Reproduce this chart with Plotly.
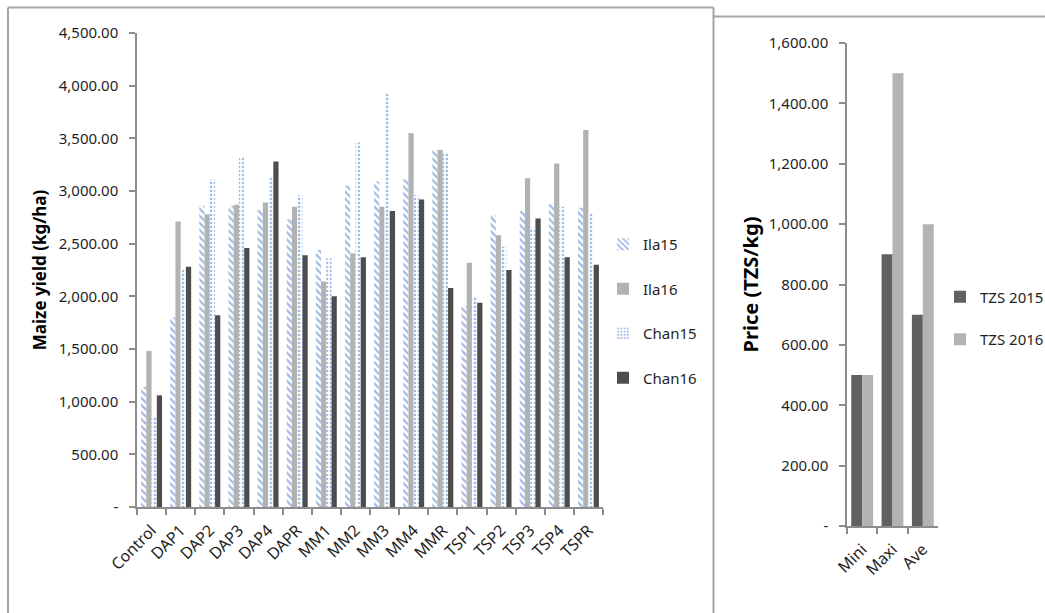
import plotly.graph_objects as go

# Maize yield by treatment (kg/ha)
treatments = ["Control", "DAP1", "DAP2", "DAP3", "DAP4", "DAPR", "MM1", "MM2",
              "MM3", "MM4", "MMR", "TSP1", "TSP2", "TSP3", "TSP4", "TSPR"]
ila15 = [1140, 1800, 2860, 2860, 2820, 2730, 2440, 3050,
         3090, 3110, 3390, 1910, 2770, 2810, 2880, 2840]
ila16 = [1480, 2710, 2780, 2870, 2890, 2850, 2140, 2410,
         2850, 3550, 3390, 2320, 2580, 3120, 3260, 3580]
chan15 = [860, 2260, 3110, 3320, 3140, 2960, 2360, 3460,
          3920, 2960, 3360, 2000, 2470, 2650, 2850, 2790]
chan16 = [1060, 2280, 1820, 2460, 3280, 2390, 2000, 2370,
          2810, 2920, 2080, 1940, 2250, 2740, 2370, 2300]

yield_ticks = [0, 500, 1000, 1500, 2000, 2500, 3000, 3500, 4000, 4500]
yield_ticktext = ["-", "500.00", "1,000.00", "1,500.00", "2,000.00", "2,500.00",
                  "3,000.00", "3,500.00", "4,000.00", "4,500.00"]

# Maize price (TZS/kg)
price_cats = ["Mini", "Maxi", "Ave"]
tzs2015 = [500, 900, 700]
tzs2016 = [500, 1500, 1000]

price_ticks = [0, 200, 400, 600, 800, 1000, 1200, 1400, 1600]
price_ticktext = ["-", "200.00", "400.00", "600.00", "800.00", "1,000.00",
                  "1,200.00", "1,400.00", "1,600.00"]

W, H = 1045, 613
BLUE = "#3f78c8"
FONT = "Noto Sans"
TXT = "#1f1f1f"
AXC = "#8c8c8c"


def px_x(v):
    return v / W


def px_y(v):
    return 1 - v / H


fig = go.Figure()

fig.add_trace(go.Bar(
    x=treatments, y=ila15, name="Ila15", legend="legend", legendgroup="a",
    marker=dict(color="white", line=dict(width=0),
                pattern=dict(shape="\\", fgcolor=BLUE, bgcolor="white",
                             size=5, solidity=0.45, fillmode="overlay")),
    xaxis="x", yaxis="y"))
fig.add_trace(go.Bar(
    x=treatments, y=ila16, name="Ila16", legend="legend", legendgroup="b",
    marker=dict(color="#b2b2b2", line=dict(width=0)),
    xaxis="x", yaxis="y"))
fig.add_trace(go.Bar(
    x=treatments, y=chan15, name="Chan15", legend="legend", legendgroup="c",
    marker=dict(color="white", line=dict(width=0),
                pattern=dict(shape=".", fgcolor=BLUE, bgcolor="white",
                             size=4, solidity=0.35, fillmode="overlay")),
    xaxis="x", yaxis="y"))
fig.add_trace(go.Bar(
    x=treatments, y=chan16, name="Chan16", legend="legend", legendgroup="d",
    marker=dict(color="#4d4d4d", line=dict(width=0)),
    xaxis="x", yaxis="y"))

fig.add_trace(go.Bar(
    x=price_cats, y=tzs2015, name="TZS 2015", legend="legend2", legendgroup="e",
    marker=dict(color="#606060", line=dict(width=0)),
    xaxis="x2", yaxis="y2"))
fig.add_trace(go.Bar(
    x=price_cats, y=tzs2016, name="TZS 2016", legend="legend2", legendgroup="f",
    marker=dict(color="#b3b3b3", line=dict(width=0)),
    xaxis="x2", yaxis="y2"))

axis_common = dict(showline=True, linecolor=AXC, linewidth=1.5, showgrid=False,
                   zeroline=False, ticks="outside", tickcolor=AXC, ticklen=6,
                   tickwidth=1.5, automargin=False)
ytick_font = dict(family=FONT, size=15, color=TXT)
xtick_font = dict(family=FONT, size=16, color=TXT)

fig.update_layout(
    width=W, height=H,
    margin=dict(l=0, r=0, t=0, b=0, autoexpand=False),
    paper_bgcolor="white", plot_bgcolor="white",
    barmode="group", bargap=0.28, bargroupgap=0,
    font=dict(family=FONT, size=15, color=TXT),
    xaxis=dict(domain=[px_x(137), px_x(603)], anchor="y", type="category",
               tickangle=-45, tickson="boundaries", tickfont=xtick_font,
               ticklabelstandoff=6, **axis_common),
    yaxis=dict(domain=[px_y(507), px_y(33)], anchor="x", range=[0, 4500],
               tickvals=yield_ticks, ticktext=yield_ticktext,
               ticklabelstandoff=8, tickfont=ytick_font,
               title=dict(text="<b>Maize yield (kg/ha)</b>", standoff=8,
                          font=dict(family=FONT, size=17, color="black")),
               **axis_common),
    xaxis2=dict(domain=[px_x(847), px_x(938)], anchor="y2", type="category",
                tickangle=-45, tickson="boundaries", tickfont=xtick_font,
                ticklabelstandoff=6, **axis_common),
    yaxis2=dict(domain=[px_y(526), px_y(43)], anchor="x2", range=[0, 1600],
                tickvals=price_ticks, ticktext=price_ticktext,
                ticklabelstandoff=8, tickfont=ytick_font,
                title=dict(text="<b>Price (TZS/kg)</b>", standoff=5,
                           font=dict(family=FONT, size=20, color="black")),
                **axis_common),
    legend=dict(x=px_x(603), y=px_y(311), xanchor="left", yanchor="middle",
                tracegroupgap=22, font=dict(family=FONT, size=15, color=TXT),
                itemwidth=30, bgcolor="rgba(0,0,0,0)"),
    legend2=dict(x=px_x(940), y=px_y(318), xanchor="left", yanchor="middle",
                 tracegroupgap=20, font=dict(family=FONT, size=15, color=TXT),
                 itemwidth=30, bgcolor="rgba(0,0,0,0)"),
    showlegend=True,
)

# Panel frames
BORDER = dict(color="#a6a6a6", width=2)
fig.add_shape(type="line", xref="paper", yref="paper",
              x0=px_x(8), x1=px_x(8), y0=px_y(7.5), y1=-0.05, line=BORDER)
fig.add_shape(type="line", xref="paper", yref="paper",
              x0=px_x(8), x1=px_x(713.5), y0=px_y(7.5), y1=px_y(7.5), line=BORDER)
fig.add_shape(type="line", xref="paper", yref="paper",
              x0=px_x(713.5), x1=px_x(713.5), y0=px_y(7.5), y1=-0.05, line=BORDER)
fig.add_shape(type="line", xref="paper", yref="paper",
              x0=px_x(713.5), x1=1.05, y0=px_y(16.5), y1=px_y(16.5), line=BORDER)

fig.write_html("out.html")
